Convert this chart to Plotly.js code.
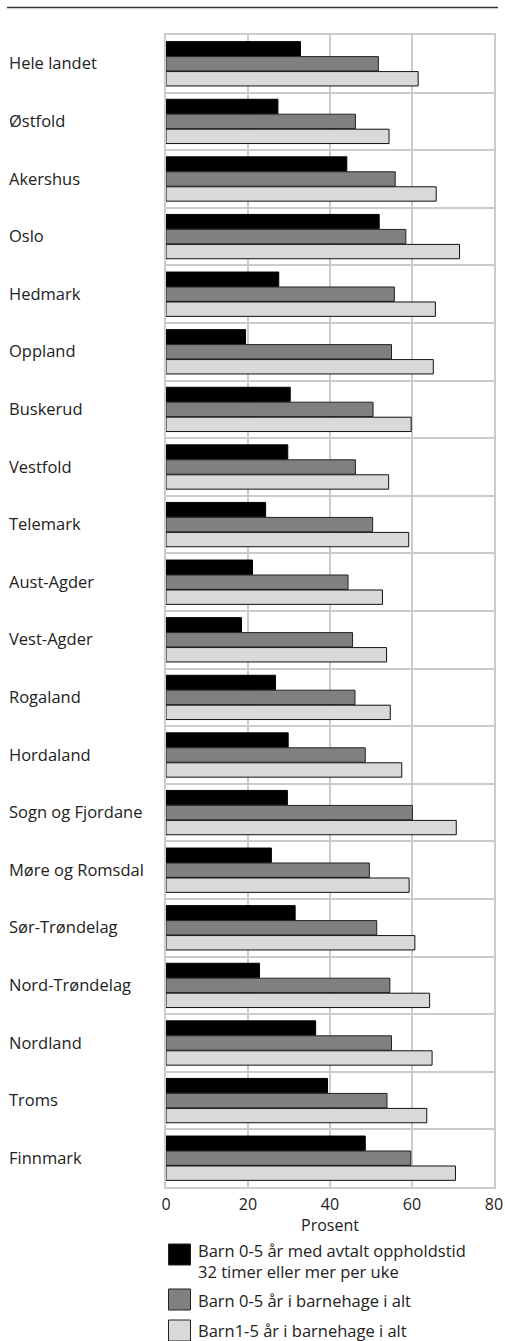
<!DOCTYPE html>
<html>
<head>
<meta charset="utf-8">
<script src="https://cdn.plot.ly/plotly-3.0.1.min.js"></script>
<style>
html,body{margin:0;padding:0;background:#fff;}
#chart{width:505px;height:1341px;}
</style>
</head>
<body>
<div id="chart"></div>
<script>
const categories = ["Hele landet","Østfold","Akershus","Oslo","Hedmark","Oppland","Buskerud","Vestfold","Telemark","Aust-Agder","Vest-Agder","Rogaland","Hordaland","Sogn og Fjordane","Møre og Romsdal","Sør-Trøndelag","Nord-Trøndelag","Nordland","Troms","Finnmark"];
const series32h = [32.8,27.3,44.1,52.0,27.5,19.4,30.3,29.7,24.3,21.1,18.4,26.7,29.8,29.6,25.7,31.5,22.8,36.5,39.4,48.6];
const series05 = [51.8,46.2,55.9,58.5,55.7,55.0,50.5,46.2,50.4,44.4,45.5,46.1,48.6,60.1,49.6,51.4,54.6,55.0,53.9,59.7];
const series15 = [61.5,54.4,65.9,71.6,65.7,65.2,59.8,54.3,59.2,52.8,53.8,54.7,57.5,70.8,59.3,60.7,64.3,64.9,63.6,70.6];
const seriesNames = ["Barn 0-5 år med avtalt oppholdstid<br>32 timer eller mer per uke","Barn 0-5 år i barnehage i alt","Barn1-5 år i barnehage i alt"];
const seriesColors = ['#000000','#808080','#d9d9d9'];
const seriesLines = ['#000000','#222222','#111111'];
const xTicks = [0,20,40,60,80];
const xTitle = 'Prosent';

const font = "'Open Sans', 'Noto Sans', sans-serif";
const idx = categories.map((c,i)=>i);
const boundaries = categories.map((c,i)=>i-0.5).concat([categories.length-0.5]);
const allSeries = [series32h, series05, series15];

const data = allSeries.map((vals,k)=>({
  type:'bar', orientation:'h', x:vals, y:idx, name:seriesNames[k].replace('<br>',' '),
  marker:{color:seriesColors[k], line:{color:seriesLines[k], width:1}}, hoverinfo:'x', showlegend:false
}));
data.push({type:'scatter', x:[null], y:[null], yaxis:'y2', showlegend:false, hoverinfo:'skip'});

const annotations = categories.map((c,i)=>({
  xref:'paper', yref:'y', x:-0.486, y:i, yshift:1, text:c, showarrow:false,
  xanchor:'left', yanchor:'middle', font:{family:font, size:16.5, color:'#222'}
}));

// plot area spans 1152px vertically (35..1187) and 328px horizontally (166..494)
const PH = 1152, PW = 328;
const py = p => -(p-1187)/PH;
const px = p => (p-166)/PW;

annotations.push({xref:'paper', yref:'paper', x:0.5, y:py(1225), text:xTitle, showarrow:false,
  xanchor:'center', yanchor:'middle', font:{family:font, size:16, color:'#222'}});

// manual legend
const legTops = [1244, 1289, 1320];
const legTextCentres = [1261, 1300, 1330];
const shapes = [{type:'line', xref:'paper', yref:'paper', x0:px(7), x1:px(498), y0:py(7.5), y1:py(7.5), line:{color:'#333', width:1.5}}];
seriesNames.forEach((n,k)=>{
  const top = legTops[k];
  shapes.push({type:'rect', xref:'paper', yref:'paper',
    x0:px(168.5), x1:px(190.5), y0:py(top), y1:py(top+21),
    fillcolor:seriesColors[k], line:{color:'#222', width:1}});
  annotations.push({xref:'paper', yref:'paper', x:px(196), y:py(legTextCentres[k]),
    text:n, showarrow:false, xanchor:'left', yanchor:'middle', align:'left',
    font:{family:font, size:16.5, color:'#222'}});
});

const layout = {
  width:505, height:1341,
  margin:{l:166, r:11, t:35, b:154},
  paper_bgcolor:'#fff', plot_bgcolor:'#fff',
  barmode:'group', bargap:0.22, bargroupgap:0.04,
  font:{family:font, size:15, color:'#222'},
  xaxis:{range:[0,80], tickvals:xTicks, ticks:'', showgrid:true, gridcolor:'#cccccc', gridwidth:2,
    zeroline:false, showline:true, mirror:true, linecolor:'#cccccc', linewidth:2, layer:'below traces', fixedrange:true,
    ticklabelstandoff:2,
    tickfont:{family:font, size:16, color:'#222'}},
  yaxis:{range:[categories.length-0.5,-0.5], tickvals:idx, showticklabels:false, ticks:'', showgrid:false, zeroline:false,
    showline:true, mirror:true, linecolor:'#cccccc', linewidth:2, layer:'below traces', fixedrange:true},
  yaxis2:{overlaying:'y', range:[categories.length-0.5,-0.5], tickvals:boundaries, showticklabels:false, ticks:'', showgrid:true, gridcolor:'#cccccc', gridwidth:2, zeroline:false, showline:false},
  showlegend:false,
  shapes:shapes,
  annotations:annotations
};
Plotly.newPlot('chart', data, layout, {displayModeBar:false, staticPlot:true});
</script>
</body>
</html>
